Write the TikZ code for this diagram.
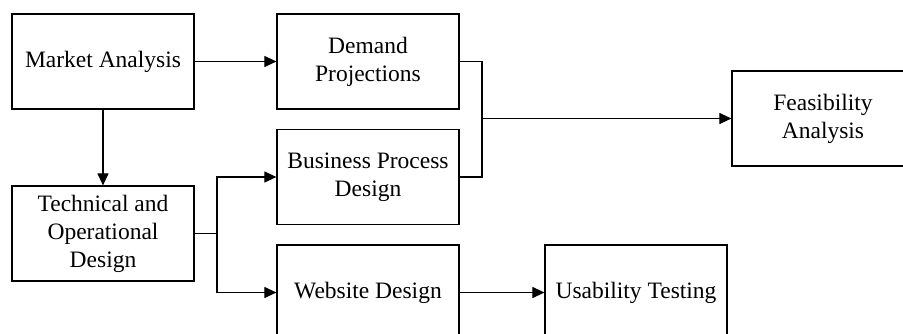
\documentclass[tikz,border=0pt]{standalone}
\usepackage{fontspec}
\setmainfont{Liberation Serif}
\usetikzlibrary{arrows.meta}
\begin{document}
\begin{tikzpicture}[x=1pt,y=1pt,
  box/.style={draw, line width=1.2pt, minimum width=182pt, minimum height=95pt,
    align=center, inner sep=2pt, font=\fontsize{23.5}{28}\selectfont},
  link/.style={draw, line width=1.1pt, -{Triangle[length=12pt,width=11pt]}},
  plain/.style={draw, line width=1.1pt}]
\clip (0,0) rectangle (903,-333);
\useasboundingbox (0,0) rectangle (903,-333);
\node[box] (market) at (103,-61.5) {Market Analysis};
\node[box] (demand) at (368,-61.5) {Demand\\Projections};
\node[box] (business) at (368,-177) {Business Process\\Design};
\node[box] (tech) at (103,-233.5) {Technical and\\Operational\\Design};
\node[box] (website) at (368,-292.5) {Website Design};
\node[box] (usability) at (636,-292.5) {Usability Testing};
\node[box] (feas) at (823,-118.5) {Feasibility\\Analysis};
% main flow
\path[link] (market) -- (demand);
\path[link] (market) -- (tech);
% branches from the technical design
\coordinate (split) at (217,-233.5);
\path[plain] (tech.east) -- (split);
\path[link] (split) |- (business.west);
\path[link] (split) |- (website.west);
\path[link] (website) -- (usability);
% merge into feasibility
\coordinate (merge) at (482,-118.5);
\path[plain] (demand.east) -| (merge);
\path[plain] (business.east) -| (merge);
\path[link] (merge) -- (feas.west);
\end{tikzpicture}
\end{document}
